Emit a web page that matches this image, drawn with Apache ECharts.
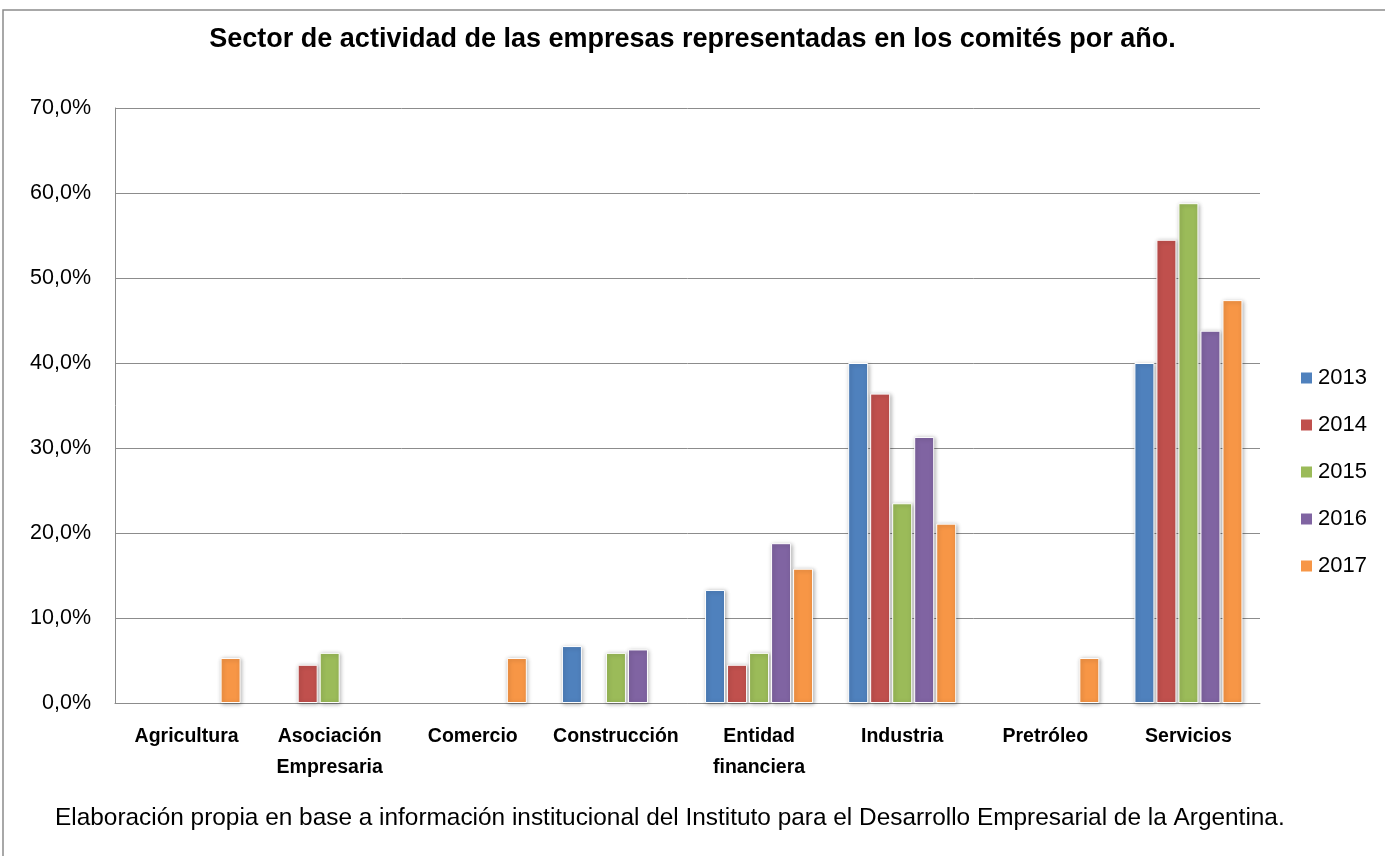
<!DOCTYPE html>
<html>
<head>
<meta charset="utf-8">
<script src="https://cdn.jsdelivr.net/npm/echarts@6/dist/echarts.min.js"></script>
<style>
  html, body { margin: 0; padding: 0; background: #fff; }
  #chart { width: 1385px; height: 856px; }
</style>
</head>
<body>
<div id="chart"></div>
<script>
// categories and values (percent)
var sectores = ['Agricultura', 'Asociación\nEmpresaria', 'Comercio', 'Construcción', 'Entidad\nfinanciera', 'Industria', 'Pretróleo', 'Servicios'];
var years = ['2013', '2014', '2015', '2016', '2017'];
var v2013 = [null, null, null, 6.7, 13.3, 40.0, null, 40.0];
var v2014 = [null, 4.5, null, null, 4.5, 36.4, null, 54.5];
var v2015 = [null, 5.9, null, 5.9, 5.9, 23.5, null, 58.8];
var v2016 = [null, null, null, 6.3, 18.8, 31.3, null, 43.8];
var v2017 = [5.3, null, 5.3, null, 15.8, 21.1, 5.3, 47.4];
var colores = ['#4F81BD', '#C0504D', '#9BBB59', '#8064A2', '#F79646'];

var font = 'Liberation Sans';
var chart = echarts.init(document.getElementById('chart'));

var seriesData = [v2013, v2014, v2015, v2016, v2017];
var series = seriesData.map(function (d, i) {
    return {
        name: years[i],
        type: 'bar',
        data: d,
        barGap: '10%',
        barCategoryGap: '24.5%',
        itemStyle: {
            color: colores[i],
            borderColor: '#ffffff',
            borderWidth: 1,
            shadowBlur: 4,
            shadowOffsetX: 1,
            shadowOffsetY: 1,
            shadowColor: 'rgba(0,0,0,0.3)'
        }
    };
});

chart.setOption({
    animation: false,
    backgroundColor: '#fff',
    color: colores,
    title: {
        text: 'Sector de actividad de las empresas representadas en los comités por año.',
        left: 'center',
        top: 21,
        textStyle: { fontFamily: font, fontSize: 27, fontWeight: 'bold', color: '#000' }
    },
    legend: {
        orient: 'vertical',
        left: 1294,
        top: 362,
        itemWidth: 13,
        itemHeight: 13,
        itemGap: 25,
        icon: 'rect',
        data: years,
        textStyle: { fontFamily: font, fontSize: 22, color: '#000' }
    },
    grid: { left: 115, right: 125, top: 108, bottom: 153 },
    xAxis: {
        type: 'category',
        data: sectores,
        axisLine: { lineStyle: { color: '#8c8c8c', width: 1 } },
        axisTick: { show: false },
        axisLabel: {
            fontFamily: font, fontSize: 19.5, fontWeight: 'bold', color: '#000',
            margin: 18, lineHeight: 31, interval: 0
        }
    },
    yAxis: {
        type: 'value',
        min: 0,
        max: 70,
        interval: 10,
        axisLine: { show: true, lineStyle: { color: '#8c8c8c', width: 1 } },
        axisTick: { show: false },
        splitLine: { lineStyle: { color: '#8c8c8c', width: 1 } },
        axisLabel: {
            fontFamily: font, fontSize: 21.5, color: '#000', margin: 24,
            formatter: function (v) { return v.toFixed(1).replace('.', ',') + '%'; }
        }
    },
    graphic: [
        {
            type: 'rect',
            shape: { x: 3, y: 10, width: 1400, height: 900 },
            style: { fill: 'none', stroke: '#8c8c8c', lineWidth: 1.5 },
            silent: true
        },
        {
            type: 'text',
            left: 55,
            top: 806,
            style: {
                text: 'Elaboración propia en base a información institucional del Instituto para el Desarrollo Empresarial de la Argentina.',
                font: '24.4px "Liberation Sans"',
                fill: '#000'
            }
        }
    ],
    series: series
});
</script>
</body>
</html>
